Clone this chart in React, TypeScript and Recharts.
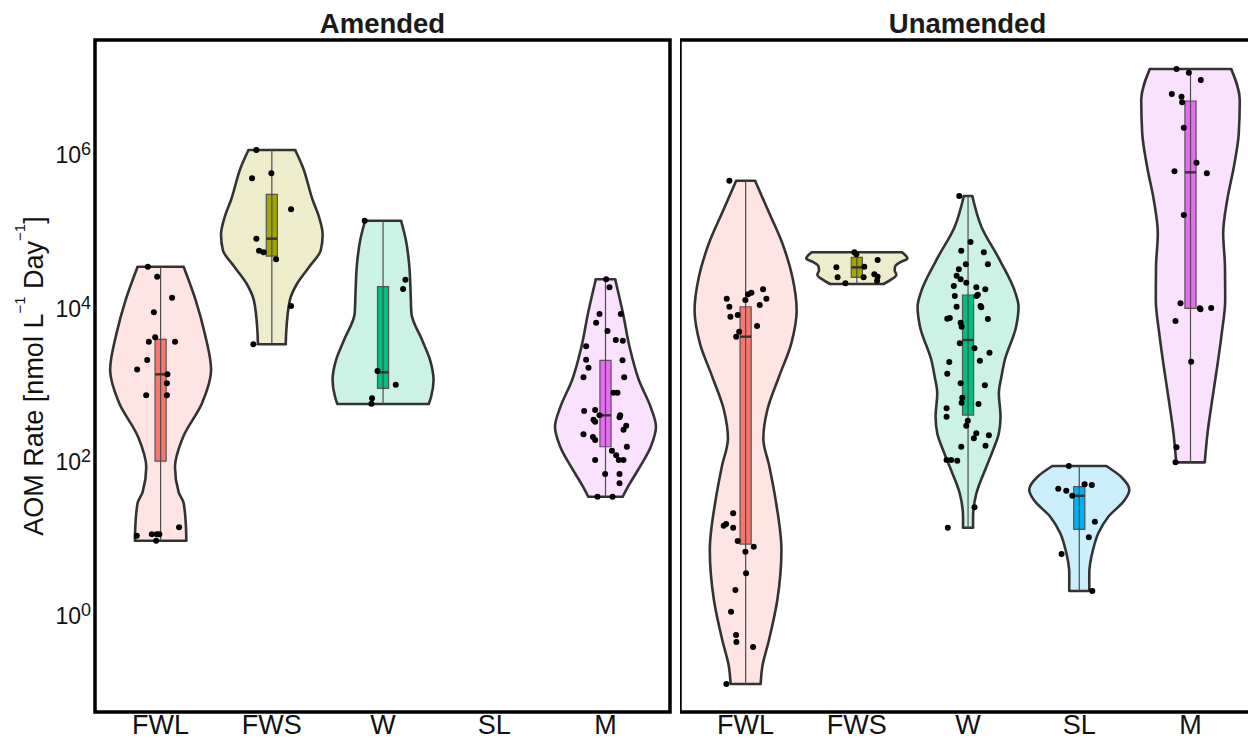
import React from 'react';
import { ComposedChart, Area, Scatter, XAxis, YAxis, ReferenceArea, ReferenceLine } from 'recharts';

const CATEGORIES = ['FWL', 'FWS', 'W', 'SL', 'M'];
const FILLS = ['#F8766D', '#A3A500', '#00BF7D', '#00B0F6', '#E76BF3'];
const Y_TICKS = [1, 1e2, 1e4, 1e6];
const Y_DOMAIN = [0.0546, 3.07e7];
const X_DOMAIN = [0.41, 5.58];
const FONT = '"Liberation Sans", Arial, sans-serif';

// violins: [log10 rate, half width], bottom to top
const A_FWL_VIOLIN = [[0.967, 0.231], [1.107, 0.229], [1.458, 0.207], [1.6, 0.162], [1.927, 0.129], [2.318, 0.202], [2.76, 0.373], [3.19, 0.454], [3.67, 0.396], [4.1, 0.315], [4.535, 0.207]];
const A_FWS_VIOLIN = [[3.525, 0.125], [3.68, 0.129], [4.1, 0.162], [4.31, 0.225], [4.535, 0.337], [4.75, 0.44], [4.95, 0.457], [5.2, 0.42], [5.404, 0.367], [5.837, 0.277], [6.055, 0.21]];
const A_W_VIOLIN = [[2.747, 0.411], [2.842, 0.432], [3.06, 0.454], [3.32, 0.423], [3.581, 0.351], [3.928, 0.255], [4.23, 0.247], [4.579, 0.234], [4.883, 0.205], [5.134, 0.162]];
const A_M_VIOLIN = [[1.54, 0.155], [1.671, 0.202], [1.888, 0.292], [2.191, 0.407], [2.452, 0.454], [2.712, 0.405], [3.06, 0.3], [3.493, 0.216], [3.928, 0.157], [4.371, 0.087]];

const U_FWL_VIOLIN = [[-0.898, 0.135], [-0.673, 0.15], [-0.326, 0.21], [0.195, 0.285], [0.846, 0.322], [1.497, 0.27], [1.931, 0.214], [2.3, 0.159], [2.669, 0.195], [3.103, 0.3], [3.538, 0.411], [3.971, 0.459], [4.405, 0.42], [4.84, 0.33], [5.273, 0.2], [5.655, 0.085]];
const U_FWS_VIOLIN = [[4.31, 0.24], [4.36, 0.3], [4.43, 0.355], [4.49, 0.34], [4.54, 0.345], [4.6, 0.4], [4.642, 0.456], [4.68, 0.44], [4.723, 0.405]];
const U_W_VIOLIN = [[1.137, 0.045], [1.28, 0.045], [1.585, 0.075], [1.931, 0.165], [2.148, 0.225], [2.366, 0.277], [2.582, 0.292], [2.887, 0.277], [3.103, 0.3], [3.32, 0.33], [3.754, 0.432], [4.014, 0.454], [4.189, 0.427], [4.622, 0.285], [5.056, 0.12], [5.456, 0.038]];
const U_SL_VIOLIN = [[0.3125, 0.09], [0.543, 0.09], [0.846, 0.123], [1.064, 0.171], [1.28, 0.261], [1.497, 0.408], [1.628, 0.45], [1.801, 0.375], [1.94, 0.243]];
const U_M_VIOLIN = [[1.988, 0.128], [2.366, 0.153], [2.799, 0.195], [3.233, 0.24], [3.668, 0.281], [4.102, 0.312], [4.535, 0.31], [4.97, 0.294], [5.404, 0.33], [5.837, 0.39], [6.272, 0.434], [6.706, 0.443], [7.109, 0.366]];

// boxes: [q1, median, q3] as log10 rate
const A_FWL_BOX = [2.005, 3.134, 3.59];
const A_FWS_BOX = [4.674, 4.9, 5.478];
const A_W_BOX = [2.952, 3.16, 4.275];
const A_M_BOX = [2.191, 2.6, 3.316];
const U_FWL_BOX = [0.924, 3.624, 4.014];
const U_FWS_BOX = [4.397, 4.527, 4.658];
const U_W_BOX = [2.604, 3.581, 4.167];
const U_SL_BOX = [1.116, 1.553, 1.671];
const U_M_BOX = [3.993, 5.764, 6.693];

// points: [jitter, log10 rate]
const A_FWL_POINTS = [[-0.115, 4.535], [-0.031, 4.405], [0.103, 4.132], [-0.061, 3.941], [-0.049, 3.616], [-0.106, 3.559], [0.13, 3.559], [-0.121, 3.32], [-0.211, 3.197], [0.061, 3.134], [0.056, 3.017], [-0.13, 2.861], [0.056, 2.861], [-0.214, 1.033], [-0.079, 1.051], [-0.034, 1.051], [-0.011, 1.051], [-0.04, 0.967], [0.166, 1.142]];
const A_FWS_POINTS = [[-0.139, 6.055], [-0.178, 5.686], [-0.004, 5.751], [0.173, 5.283], [-0.139, 4.9], [-0.115, 4.743], [-0.074, 4.723], [0.038, 4.632], [0.173, 4.023], [-0.166, 3.525]];
const A_W_POINTS = [[-0.165, 5.134], [0.201, 4.366], [0.18, 4.245], [-0.05, 3.177], [0.114, 2.999], [-0.099, 2.822], [-0.104, 2.751]];
const A_M_POINTS = [[0.006, 4.371], [0.036, 4.267], [-0.054, 3.919], [0.138, 3.919], [-0.084, 3.806], [0.018, 3.698], [0.093, 3.581], [0.156, 3.572], [-0.174, 3.498], [-0.174, 3.324], [0.153, 3.316], [-0.153, 3.22], [-0.198, 3.095], [0.168, 3.095], [0.072, 2.895], [0.108, 2.895], [-0.192, 2.656], [-0.093, 2.669], [-0.054, 2.6], [-0.108, 2.543], [-0.093, 2.517], [0.132, 2.6], [0.126, 2.574], [0.186, 2.465], [0.162, 2.413], [-0.198, 2.353], [-0.113, 2.318], [-0.093, 2.279], [0.192, 2.191], [0.058, 2.139], [0.096, 2.079], [0.12, 2.018], [0.162, 2.018], [-0.093, 2.018], [-0.003, 1.836], [0.126, 1.836], [0.126, 1.715], [-0.072, 1.54], [0.063, 1.54]];
const U_FWL_POINTS = [[-0.146, 5.655], [0.157, 4.241], [0.187, 4.118], [0.052, 4.197], [0.022, 4.176], [-0.17, 4.118], [-0.146, 4.014], [0.127, 4.036], [-0.002, 4.102], [-0.137, 3.884], [-0.071, 3.906], [0.103, 3.763], [-0.058, 3.689], [-0.085, 3.624], [-0.112, 1.324], [-0.197, 1.163], [-0.175, 1.185], [-0.112, 1.137], [-0.071, 0.964], [0.073, 0.889], [-0.002, 0.824], [0.004, 0.543], [-0.092, 0.326], [-0.131, 0.043], [-0.086, -0.26], [-0.083, -0.352], [0.067, -0.417], [-0.173, -0.898]];
const U_FWS_POINTS = [[-0.022, 4.723], [-0.004, 4.697], [0.187, 4.622], [-0.184, 4.527], [0.067, 4.535], [-0.173, 4.397], [0.061, 4.397], [0.157, 4.436], [0.187, 4.405], [0.182, 4.353], [-0.103, 4.319]];
const U_W_POINTS = [[-0.079, 5.456], [0.022, 4.857], [-0.061, 4.744], [0.142, 4.722], [-0.02, 4.566], [0.178, 4.566], [-0.083, 4.501], [-0.103, 4.418], [-0.067, 4.371], [-0.016, 4.327], [-0.128, 4.284], [0.074, 4.267], [0.155, 4.241], [-0.119, 4.154], [0.076, 4.154], [0.088, 4.171], [-0.103, 4.014], [0.112, 4.023], [0.119, 4.006], [-0.187, 3.858], [-0.164, 3.867], [0.178, 3.854], [-0.067, 3.806], [-0.058, 3.754], [-0.074, 3.538], [0.058, 3.473], [0.193, 3.416], [-0.169, 3.294], [0.106, 3.311], [-0.187, 3.142], [-0.067, 3.017], [0.151, 2.991], [-0.052, 2.829], [-0.058, 2.764], [0.094, 2.747], [-0.193, 2.691], [-0.193, 2.582], [-0.002, 2.53], [-0.016, 2.465], [0.074, 2.366], [0.052, 2.301], [0.187, 2.34], [0.157, 2.204], [-0.061, 2.191], [-0.193, 2.018], [-0.151, 2.018], [-0.097, 2.009], [0.058, 1.402], [-0.182, 1.137]];
const U_SL_POINTS = [[-0.094, 1.94], [-0.189, 1.645], [-0.117, 1.618], [-0.063, 1.553], [0.048, 1.702], [0.113, 1.693], [0.14, 1.215], [0.086, 1.012], [-0.159, 0.794], [0.117, 0.3125]];
const U_M_POINTS = [[-0.126, 7.109], [-0.015, 7.061], [0.093, 6.966], [-0.168, 6.784], [-0.081, 6.749], [-0.075, 6.676], [-0.06, 6.345], [-0.144, 5.777], [0.147, 5.751], [0.054, 5.889], [-0.06, 5.208], [-0.09, 4.059], [0.084, 3.993], [0.09, 3.98], [0.186, 3.997], [-0.135, 3.828], [0.006, 3.298], [-0.126, 2.183], [-0.135, 1.988]];

type Group = { cat: number; violin: number[][]; box: number[]; points: number[][] };

const AMENDED: Group[] = [
  { cat: 1, violin: A_FWL_VIOLIN, box: A_FWL_BOX, points: A_FWL_POINTS },
  { cat: 2, violin: A_FWS_VIOLIN, box: A_FWS_BOX, points: A_FWS_POINTS },
  { cat: 3, violin: A_W_VIOLIN, box: A_W_BOX, points: A_W_POINTS },
  { cat: 5, violin: A_M_VIOLIN, box: A_M_BOX, points: A_M_POINTS },
];
const UNAMENDED: Group[] = [
  { cat: 1, violin: U_FWL_VIOLIN, box: U_FWL_BOX, points: U_FWL_POINTS },
  { cat: 2, violin: U_FWS_VIOLIN, box: U_FWS_BOX, points: U_FWS_POINTS },
  { cat: 3, violin: U_W_VIOLIN, box: U_W_BOX, points: U_W_POINTS },
  { cat: 4, violin: U_SL_VIOLIN, box: U_SL_BOX, points: U_SL_POINTS },
  { cat: 5, violin: U_M_VIOLIN, box: U_M_BOX, points: U_M_POINTS },
];

const pow = (e: number) => Math.pow(10, e);
const BOX_HALF = 0.05;

const PowerTick = (props: any) => {
  const { x, y, payload } = props;
  const exp = Math.round(Math.log10(payload.value));
  return (
    <text x={x} y={y + 9} textAnchor="end" fontFamily={FONT} fontSize={23} fill="#111">
      10<tspan dy={-8} fontSize={18}>{exp}</tspan>
    </text>
  );
};

const Panel: React.FC<{ groups: Group[]; showY: boolean; left: number; width: number; marginRight: number }> = ({ groups, showY, left, width, marginRight }) => {
  const points = groups.flatMap(g => g.points.map(([dx, ly]) => ({ x: g.cat + dx, y: pow(ly) })));
  return (
    <div style={{ position: 'absolute', left, top: 0 }}>
      <ComposedChart layout="vertical" width={width} height={740} margin={{ top: 40, right: marginRight, bottom: 0, left: 0 }}>
        <XAxis type="number" dataKey="x" domain={X_DOMAIN} allowDataOverflow ticks={[1, 2, 3, 4, 5]} interval={0}
          tickFormatter={(v: number) => CATEGORIES[v - 1]} axisLine={false} tickLine={false} tickSize={0} tickMargin={3} height={28}
          tick={{ fontSize: 27, fill: '#111', fontFamily: FONT }} />
        <YAxis type="number" dataKey="y" scale="log" reversed domain={Y_DOMAIN} allowDataOverflow ticks={Y_TICKS} hide={!showY} width={95}
          axisLine={false} tickLine={false} tickSize={0} tickMargin={4} tick={<PowerTick />} />

        {groups.map(g => (
          <Area key={'v' + g.cat} data={g.violin.map(([ly, hw]) => ({ y: pow(ly), v: [g.cat - hw, g.cat + hw] }))}
            dataKey="v" type="monotone" fill={FILLS[g.cat - 1]} fillOpacity={0.2} stroke="#333" strokeWidth={2.6}
            dot={false} activeDot={false} isAnimationActive={false} />
        ))}
        {groups.flatMap(g => [g.violin[0], g.violin[g.violin.length - 1]].map(([ly, hw], i) => (
          <ReferenceLine key={'c' + g.cat + i} segment={[{ x: g.cat - hw, y: pow(ly) }, { x: g.cat + hw, y: pow(ly) }]}
            stroke="#333" strokeWidth={2.6} strokeLinecap="round" ifOverflow="visible" />
        )))}
        {groups.map(g => (
          <ReferenceLine key={'w' + g.cat} segment={[{ x: g.cat, y: pow(g.violin[0][0]) }, { x: g.cat, y: pow(g.violin[g.violin.length - 1][0]) }]}
            stroke="#4d4d4d" strokeWidth={1.2} ifOverflow="visible" />
        ))}
        {groups.map(g => (
          <ReferenceArea key={'b' + g.cat} x1={g.cat - BOX_HALF} x2={g.cat + BOX_HALF} y1={pow(g.box[0])} y2={pow(g.box[2])}
            fill={FILLS[g.cat - 1]} fillOpacity={1} stroke="#555" strokeWidth={1.2} ifOverflow="visible" />
        ))}
        {groups.map(g => (
          <ReferenceLine key={'m' + g.cat} segment={[{ x: g.cat - BOX_HALF, y: pow(g.box[1]) }, { x: g.cat + BOX_HALF, y: pow(g.box[1]) }]}
            stroke="#333" strokeWidth={2.4} ifOverflow="visible" />
        ))}
        <Scatter data={points} isAnimationActive={false}
          shape={(p: any) => <circle cx={p.cx} cy={p.cy} r={3} fill="#000" />} />
        <ReferenceArea x1={X_DOMAIN[0]} x2={X_DOMAIN[1]} y1={Y_DOMAIN[0]} y2={Y_DOMAIN[1]} fill="none" stroke="#000" strokeWidth={3.5} ifOverflow="visible" />
      </ComposedChart>
    </div>
  );
};

export default function App() {
  return (
    <div style={{ position: 'absolute', left: 0, top: 0, width: 1248, height: 740, overflow: 'hidden', background: '#fff' }}>
      <Panel groups={AMENDED} showY left={0} width={672} marginRight={2} />
      <Panel groups={UNAMENDED} showY={false} left={680} width={575} marginRight={0} />
      <svg width={1248} height={740} style={{ position: 'absolute', left: 0, top: 0, pointerEvents: 'none' }}>
        <text x={382.5} y={33} textAnchor="middle" fontFamily={FONT} fontWeight="bold" fontSize={27.5} fill="#1a1a1a">Amended</text>
        <text x={967.5} y={33} textAnchor="middle" fontFamily={FONT} fontWeight="bold" fontSize={27.5} fill="#1a1a1a">Unamended</text>
        <text transform="translate(42.5,376) rotate(-90)" textAnchor="middle" fontFamily={FONT} fontSize={27} fill="#111">
          AOM Rate [nmol L<tspan dy={-18} fontSize={15}>−1</tspan><tspan dy={18}> Day</tspan><tspan dy={-18} fontSize={15}>−1</tspan><tspan dy={18}>]</tspan>
        </text>
      </svg>
    </div>
  );
}
